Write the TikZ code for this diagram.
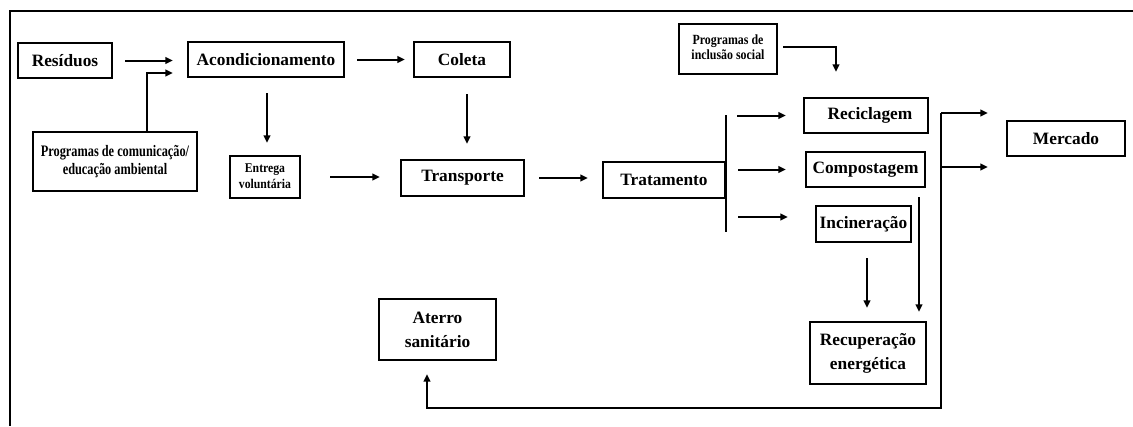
\documentclass[tikz,border=0pt]{standalone}
\usepackage{fontspec}
\setmainfont{Liberation Serif}
\usetikzlibrary{arrows.meta,calc}
\newcommand{\narrow}[2]{\scalebox{#1}[1]{\begin{tabular}{@{}c@{}}#2\end{tabular}}}
\begin{document}
\begin{tikzpicture}[x=0.75pt,y=-0.75pt,
  box/.style={draw, line width=1.8pt, inner sep=0pt, align=center, font=\fontsize{13}{18}\selectfont\bfseries},
  line/.style={line width=1.5pt},
  arr/.style={line width=1.5pt, -{Triangle[length=5.5pt,width=5pt]}}]
\useasboundingbox (0,0) rectangle (1133,426);
\draw[line width=1.5pt] (1133,11) -- (10,11) -- (10,426);
% nodes
\node[box, minimum width=70.5pt, minimum height=26.25pt] (res) at (65,60.5) {Resíduos};
\node[box, minimum width=117pt, minimum height=26.25pt] (acond) at (266,59.5) {Acondicionamento};
\node[box, minimum width=72pt, minimum height=26.25pt] (coleta) at (462,59.5) {Coleta};
\node[box, font=\fontsize{12}{13.5}\selectfont\bfseries, minimum width=123pt, minimum height=44.25pt] (prog1) at (115,161.5) {\narrow{0.77}{Programas de comunicação/\\educação ambiental}};
\node[box, font=\fontsize{10}{12}\selectfont\bfseries, minimum width=52.5pt, minimum height=31.5pt] (entrega) at (265,177) {\narrow{0.88}{Entrega\\voluntária}};
\node[box, minimum width=92.25pt, minimum height=27pt] (transp) at (462.5,178) {Transporte};
\node[box, minimum width=91.5pt, minimum height=27pt] (trat) at (664,180) {Tratamento};
\node[box, font=\fontsize{10.5}{11.25}\selectfont\bfseries, minimum width=73.5pt, minimum height=37.5pt] (prog2) at (728,49) {\narrow{0.85}{Programas de\\inclusão social}};
\node[box, minimum width=93pt, minimum height=26.25pt] (recic) at (866,115.5) {\hspace*{6pt}Reciclagem};
\node[box, minimum width=89.25pt, minimum height=26.25pt] (compost) at (865.5,169.5) {Compostagem};
\node[box, minimum width=71.25pt, minimum height=27pt] (incin) at (863.5,224) {Incineração};
\node[box, minimum width=87pt, minimum height=46.5pt] (recup) at (868,353) {Recuperação\\energética};
\node[box, minimum width=88.5pt, minimum height=26.25pt] (merc) at (1066,138.5) {Mercado};
\node[box, minimum width=87.75pt, minimum height=45.75pt] (aterro) at (437.5,329.5) {Aterro\\sanitário};
% coordinates
\coordinate (bt) at (726,115);
\coordinate (bb) at (726,232);
\coordinate (iw) at ($(incin.west)+(0,-7)$);
\coordinate (cv) at ($(compost.south)+(53.5,9)$);
\coordinate (as) at ($(acond.south)+(1,0)$);
\coordinate (cs) at ($(coleta.south)+(5,0)$);
\coordinate (is) at ($(incin.south)+(3.5,0)$);
\coordinate (p1) at ($(prog1.north)+(32,0)$);
\coordinate (aw) at ($(acond.west)+(0,13.5)$);
\coordinate (p2) at ($(prog2.east)+(5,-2)$);
\coordinate (rn) at ($(recic.north)+(-30,-25)$);
\coordinate (b1) at (941,113);
\coordinate (b3) at (941,167);
\coordinate (b2) at (941,408);
\coordinate (atin) at ($(aterro.south)+(-10.5,0)$);
% connectors
\draw[arr, shorten <=9pt, shorten >=10.5pt] (res.east) -- (res.east -| acond.west);
\draw[arr, shorten >=10.5pt] (p1) |- (aw);
\draw[arr, shorten <=11.25pt, shorten >=9pt] (as) -- (as |- entrega.north);
\draw[arr, shorten <=9pt, shorten >=6pt] (acond.east) -- (acond.east -| coleta.west);
\draw[arr, shorten <=12pt, shorten >=11.25pt] (cs) -- (cs |- transp.north);
\draw[arr, shorten <=21.75pt, shorten >=15pt] (entrega.east) -- (entrega.east -| transp.west);
\draw[arr, shorten <=10.5pt, shorten >=10.5pt] (transp.east) -- (transp.east -| trat.west);
\draw[line] (bt) -- (bb);
\draw[arr, shorten <=8.25pt, shorten >=12.75pt] (recic.west -| bt) -- (recic.west);
\draw[arr, shorten <=9pt, shorten >=14.25pt] (compost.west -| bt) -- (compost.west);
\draw[arr, shorten <=9pt, shorten >=20.25pt] (iw -| bt) -- (iw);
\draw[arr] (p2) -| (rn);
\draw[arr, shorten >=6.75pt] (cv) -- (cv |- recup.north);
\draw[arr, shorten <=11.25pt, shorten >=9.75pt] (is) -- (is |- recup.north);
\draw[arr, shorten >=13.5pt] (b1) -- (b1 -| merc.west);
\draw[arr, shorten >=13.5pt] (b3) -- (b3 -| merc.west);
\draw[arr, shorten >=9.75pt] (b1) -- (b2) -| (atin);
\end{tikzpicture}
\end{document}
